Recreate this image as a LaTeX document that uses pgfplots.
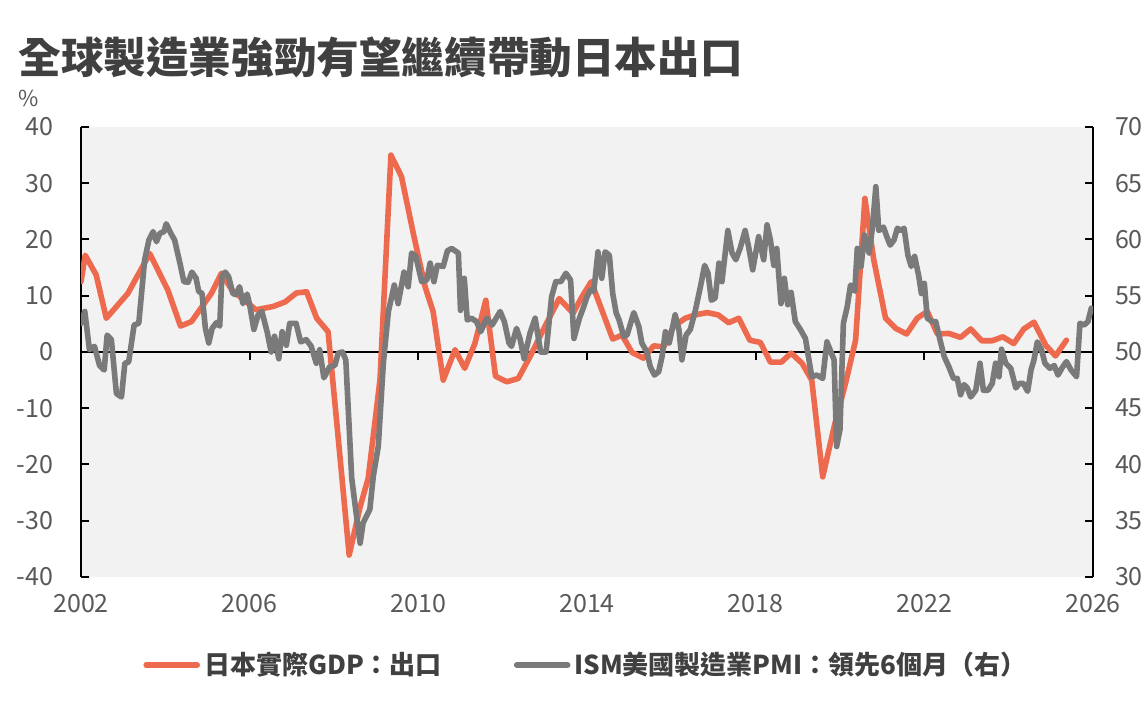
\documentclass[border=0pt]{standalone}
\usepackage{pgfplots}
\usepackage{pgfplotstable}
\pgfplotsset{compat=1.18}
\usepackage{fontspec}
\setmainfont{Noto Sans CJK TC}

\definecolor{expred}{HTML}{EE6A4E}
\definecolor{pmigray}{HTML}{7A7A7A}
\definecolor{bggray}{HTML}{F2F2F2}
\definecolor{titlegray}{HTML}{404040}
\definecolor{tickgray}{HTML}{595959}

% Japan real GDP: exports, YoY %
\pgfplotstableread{
year val
2002.00 12.5
2002.10 17.2
2002.36 13.7
2002.60 6.0
2003.11 10.4
2003.63 17.5
2004.06 11.0
2004.36 4.6
2004.62 5.4
2005.09 10.4
2005.33 14.0
2005.58 11.0
2006.15 7.5
2006.56 8.1
2006.84 8.9
2007.11 10.5
2007.35 10.7
2007.59 6.0
2007.86 3.6
2008.06 -12.1
2008.36 -36.1
2008.62 -27.5
2008.81 -22.5
2009.09 -5.0
2009.35 35.0
2009.60 31.2
2009.88 21.1
2010.16 11.6
2010.35 7.2
2010.59 -5.0
2010.87 0.4
2011.10 -2.9
2011.34 1.5
2011.60 9.2
2011.83 -4.3
2012.10 -5.3
2012.37 -4.7
2012.65 -0.8
2012.96 3.9
2013.34 9.5
2013.67 6.9
2013.88 9.8
2014.10 12.5
2014.35 7.5
2014.61 2.3
2014.83 3.0
2015.07 -0.1
2015.34 -1.1
2015.58 1.1
2015.82 0.9
2016.05 4.5
2016.33 6.0
2016.57 6.6
2016.85 7.0
2017.11 6.6
2017.36 5.2
2017.60 6.0
2017.86 2.1
2018.11 1.7
2018.35 -1.8
2018.61 -1.8
2018.84 -0.2
2019.10 -2.0
2019.33 -5.0
2019.59 -22.2
2019.87 -13.0
2020.13 -5.6
2020.37 2.1
2020.59 27.3
2020.80 16.4
2021.08 6.0
2021.32 4.2
2021.58 3.2
2021.83 6.0
2022.07 7.2
2022.31 3.2
2022.58 3.3
2022.86 2.6
2023.10 4.1
2023.36 2.0
2023.61 2.0
2023.86 2.7
2024.12 1.5
2024.36 4.1
2024.60 5.3
2024.88 1.2
2025.11 -0.7
2025.37 2.1
}\exports

% ISM US manufacturing PMI, led 6 months
\pgfplotstableread{
year val
2002.00 52.55
2002.09 53.6
2002.20 50.2
2002.32 50.5
2002.44 48.8
2002.55 48.4
2002.62 51.5
2002.72 51.1
2002.84 46.3
2002.96 46.0
2003.04 49.0
2003.13 49.1
2003.26 52.4
2003.37 52.55
2003.51 58.2
2003.61 59.95
2003.71 60.7
2003.79 59.8
2003.87 60.55
2003.97 60.7
2004.02 61.4
2004.13 60.55
2004.22 59.95
2004.34 58.0
2004.44 56.25
2004.54 56.2
2004.63 57.1
2004.73 56.55
2004.79 55.4
2004.87 55.2
2004.95 52.1
2005.03 50.8
2005.11 52.1
2005.21 52.6
2005.29 52.3
2005.34 56.7
2005.42 57.1
2005.50 56.7
2005.60 55.2
2005.68 55.1
2005.76 55.8
2005.84 54.3
2005.94 55.15
2006.00 54.2
2006.10 52.0
2006.20 53.3
2006.29 53.6
2006.42 51.7
2006.51 50.0
2006.59 51.4
2006.69 49.4
2006.77 51.8
2006.87 50.6
2006.95 52.55
2007.10 52.55
2007.21 50.9
2007.34 51.1
2007.46 50.5
2007.58 49.0
2007.66 50.2
2007.76 47.7
2007.90 48.7
2008.02 48.8
2008.10 49.9
2008.20 50.0
2008.28 49.3
2008.42 38.8
2008.50 36.4
2008.62 33.0
2008.69 34.8
2008.85 36.0
2008.93 38.9
2009.05 41.6
2009.17 49.0
2009.29 53.6
2009.43 55.95
2009.52 54.3
2009.66 57.1
2009.76 55.8
2009.84 58.8
2009.94 58.5
2010.08 56.25
2010.20 56.4
2010.28 57.9
2010.37 56.25
2010.45 57.7
2010.59 57.6
2010.69 59.0
2010.79 59.2
2010.95 58.8
2011.00 53.7
2011.09 56.55
2011.16 52.85
2011.26 53.0
2011.38 52.7
2011.48 51.8
2011.62 53.0
2011.75 52.4
2011.94 53.6
2012.04 52.7
2012.15 50.8
2012.21 50.5
2012.33 52.1
2012.41 51.2
2012.51 49.4
2012.65 51.7
2012.77 53.0
2012.90 50.0
2013.03 50.0
2013.16 54.9
2013.26 56.25
2013.38 56.25
2013.50 57.0
2013.61 56.4
2013.69 51.2
2013.82 53.0
2013.92 54.0
2014.00 54.9
2014.08 55.5
2014.16 55.4
2014.26 58.9
2014.35 56.55
2014.43 58.9
2014.53 58.6
2014.61 55.2
2014.69 53.5
2014.76 52.85
2014.87 51.4
2014.95 51.5
2015.11 53.5
2015.23 52.25
2015.30 50.8
2015.42 50.0
2015.50 48.7
2015.60 47.95
2015.70 48.25
2015.78 49.6
2015.86 51.8
2015.95 50.8
2016.09 53.3
2016.18 52.0
2016.25 49.3
2016.35 51.5
2016.45 52.0
2016.57 53.7
2016.69 55.8
2016.79 57.7
2016.87 57.0
2016.95 54.6
2017.04 54.8
2017.13 57.9
2017.20 56.25
2017.34 60.8
2017.44 58.8
2017.53 58.2
2017.63 59.2
2017.75 60.8
2017.83 59.4
2017.93 57.3
2018.07 60.25
2018.19 58.2
2018.27 61.3
2018.35 59.95
2018.43 57.7
2018.50 59.2
2018.60 54.3
2018.68 56.55
2018.76 54.2
2018.84 55.3
2018.94 52.7
2019.06 52.0
2019.18 51.2
2019.33 47.8
2019.45 47.95
2019.59 47.65
2019.69 50.9
2019.79 49.95
2019.86 49.3
2019.92 41.6
2020.00 43.1
2020.08 52.55
2020.17 54.0
2020.25 55.95
2020.35 55.4
2020.41 59.2
2020.50 57.6
2020.58 60.4
2020.69 58.8
2020.77 61.1
2020.85 64.7
2020.92 60.8
2021.03 61.1
2021.11 60.25
2021.19 59.5
2021.28 59.95
2021.36 61.0
2021.44 60.8
2021.52 61.0
2021.61 58.6
2021.69 57.6
2021.77 58.5
2021.87 56.7
2021.93 55.2
2022.00 56.1
2022.07 53.0
2022.19 52.7
2022.27 52.7
2022.37 51.1
2022.47 49.6
2022.58 48.7
2022.69 47.65
2022.78 47.65
2022.86 46.2
2022.94 47.1
2023.02 46.8
2023.10 46.0
2023.22 46.6
2023.32 49.0
2023.40 46.6
2023.51 46.6
2023.61 47.2
2023.69 49.0
2023.77 47.8
2023.83 50.25
2023.93 49.0
2024.05 48.55
2024.17 46.8
2024.25 47.2
2024.35 47.2
2024.45 46.5
2024.53 48.4
2024.60 49.3
2024.68 50.9
2024.78 50.2
2024.86 49.0
2024.98 48.55
2025.08 48.8
2025.17 47.95
2025.26 48.55
2025.37 49.15
2025.48 48.4
2025.61 47.8
2025.69 52.55
2025.79 52.4
2025.88 52.7
2025.96 53.9
}\pmi

% x runs in years after 2000 to keep TeX dimensions small
\pgfplotsset{common/.style={
  scale only axis, width=506pt, height=225pt,
  at={(40.5pt,72pt)}, anchor=south west,
  xmin=2, xmax=26,
  /pgf/number format/assume math mode=true,
  tick label style={font=\fontsize{12.5}{14}\selectfont, text=tickgray},
  axis line style={black, line width=1pt},
  tick style={black, line width=1pt},
  major tick length=4pt,
  tick align=inside,
}}

\begin{document}
\begin{tikzpicture}
\path[use as bounding box, fill=white] (0,0) rectangle (572.5pt,360.5pt);
\node[anchor=west, inner sep=0pt, text=titlegray, font=\fontsize{21.3}{24}\selectfont\bfseries]
  at (9pt,331.75pt) {全球製造業強勁有望繼續帶動日本出口};
\node[anchor=west, inner sep=0pt, text=tickgray, font=\fontsize{11}{13}\selectfont]
  at (9pt,311.5pt) {\%};

\begin{axis}[common,
  axis y line*=left, axis x line*=bottom,
  x axis line style={draw=none}, xtick style={draw=none},
  xtick={2,6,10,14,18,22,26},
  xticklabels={2002,2006,2010,2014,2018,2022,2026},
  ymin=-40, ymax=40, ytick={-40,-30,...,40},
  axis background/.style={fill=bggray},
  yticklabel style={xshift=-10.5pt},
  xticklabel style={yshift=-5pt},
]
\draw[black, line width=1pt] (axis cs:2,0) -- (axis cs:26,0);
\pgfplotsinvokeforeach{6,10,14,18,22}{
  \draw[black, line width=1pt] (axis cs:#1,0) -- ([yshift=-4pt]axis cs:#1,0);
}
\addplot[expred, line width=2.8pt, line join=round, line cap=round]
  table[x expr=\thisrow{year}-2000, y=val] {\exports};
\end{axis}

\begin{axis}[common,
  axis y line*=right, axis x line=none,
  ymin=30, ymax=70, ytick={30,35,...,70},
  yticklabel style={xshift=7.5pt},
  legend columns=2,
  legend image code/.code={\draw[#1] (0pt,0pt) -- (25.5pt,0pt);},
  legend style={at={(0.5,-0.1956)}, anchor=center, draw=none, fill=none,
    font=\fontsize{13}{15}\selectfont\bfseries, text=titlegray,
    /tikz/every even column/.append style={column sep=34pt}},
]
\addlegendimage{expred, line width=2.8pt, line cap=round}
\addlegendentry{日本實際GDP：出口}
\addplot[pmigray, line width=2.8pt, line join=round, line cap=round]
  table[x expr=\thisrow{year}-2000, y=val] {\pmi};
\addlegendentry{ISM美國製造業PMI：領先6個月（右）}
\end{axis}
\end{tikzpicture}
\end{document}
